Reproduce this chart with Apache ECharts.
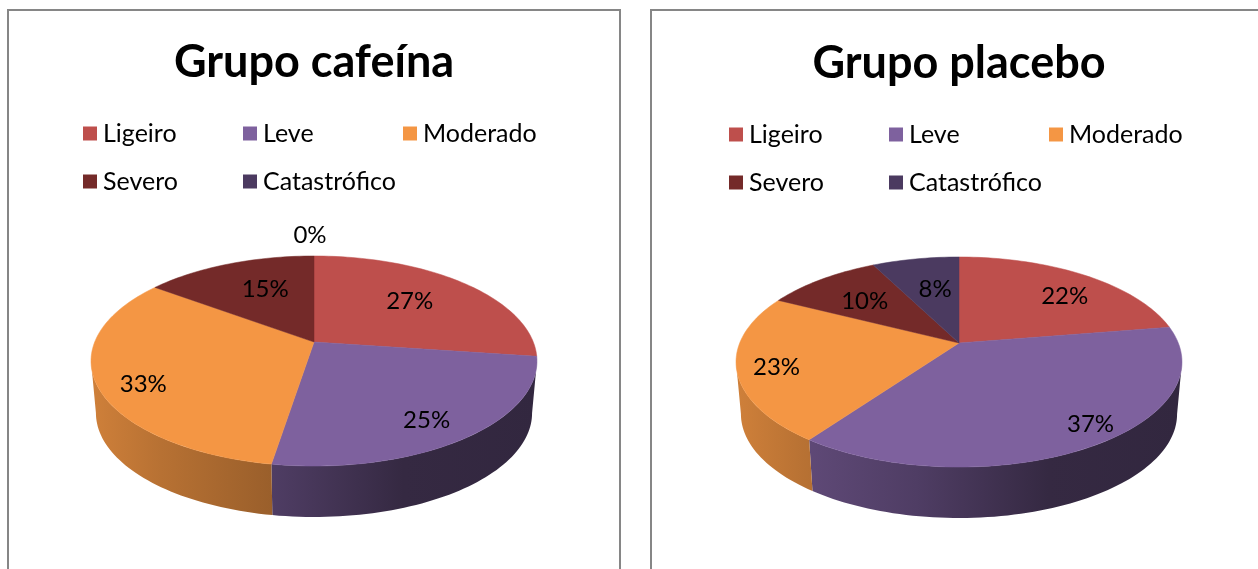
<!DOCTYPE html>
<html>
<head>
<meta charset="utf-8">
<style>
  html, body { margin: 0; padding: 0; background: #fff; overflow: hidden; }
  #chart { width: 1258px; height: 569px; }
</style>
<script src="https://cdn.jsdelivr.net/npm/echarts@6/dist/echarts.min.js"></script>
</head>
<body>
<div id="chart"></div>
<script>
const categories = ['Ligeiro', 'Leve', 'Moderado', 'Severo', 'Catastrófico'];
const titles = ['Grupo cafeína', 'Grupo placebo'];
const cafeina = [27.2, 25.35, 32.6, 14.85, 0];
const placebo = [22.45, 37.45, 22.6, 10, 7.5];

const colors = ['#BE4F4C', '#7E619E', '#F49644', '#742A29', '#4B3A60'];
const FONT = 'Lato';

// one entry per pie
const pies = [
  {
    values: cafeina, title: titles[0], cx: 314, cy: 342, titleY: 62, legendX: 83, legendY: 125,
    labelRadius: [0.64, 0.81, 0.82, 0.62, 1.29], labelNudge: [-1.6, 2.6, -5.8, 3.4, -1]
  },
  {
    values: placebo, title: titles[1], cx: 959, cy: 343, titleY: 63, legendX: 729, legendY: 126,
    labelRadius: [0.73, 0.875, 0.83, 0.64, 0.6], labelNudge: [5.7, -5, -2.5, -1.5, 1.9]
  }
];

// tilt of the disc: perspective foreshortening, far edge is squeezed
const PERSP = 0.181, RX = 219.3, RY = 101.6, DEPTH = 52;
const WALL_FROM = 100.4, WALL_TO = 259.6; // angles where the rim turns away

function rim(pie, deg) {
  const t = deg * Math.PI / 180;
  const w = 1 + PERSP * Math.cos(t);
  return [pie.cx + RX * Math.sin(t) / w, pie.cy - RY * Math.cos(t) / w];
}

function lowerRim(pie, deg) {
  const p = rim(pie, deg);
  const ey = pie.cy + 19;
  return [pie.cx + (p[0] - pie.cx) * 0.978, ey + DEPTH + (p[1] - ey) * 0.99];
}

function arc(fn, pie, from, to) {
  const pts = [];
  const n = Math.max(2, Math.ceil((to - from) / 1.5));
  for (let i = 0; i <= n; i++) pts.push(fn(pie, from + (to - from) * i / n));
  return pts;
}

function shade(hex, f) {
  const n = parseInt(hex.slice(1), 16);
  const c = [n >> 16, (n >> 8) & 255, n & 255].map(v => Math.round(v * f));
  return 'rgb(' + c.join(',') + ')';
}

function wallFill(pie, color) {
  const x0 = pie.cx - 223, x1 = pie.cx + 223;
  const stops = [[0, 0.85], [0.157, 0.75], [0.405, 0.63], [0.7, 0.42], [1, 0.4]];
  return new echarts.graphic.LinearGradient(x0, 0, x1, 0,
    stops.map(s => ({ offset: s[0], color: shade(color, s[1]) })), true);
}

function sliceRenderer(pie, idx) {
  return function (params, api) {
    const value = api.value(0);
    const from = api.value(1) * 3.6;
    const to = from + value * 3.6;
    const children = [];

    const a = Math.max(from, WALL_FROM), b = Math.min(to, WALL_TO);
    if (b > a) {
      const upper = arc(rim, pie, a, b);
      const lower = arc(lowerRim, pie, a, b).reverse();
      children.push({
        type: 'polygon',
        shape: { points: upper.concat(lower) },
        style: { fill: wallFill(pie, colors[idx]) }
      });
    }
    if (value > 0) {
      children.push({
        type: 'polygon',
        shape: { points: [[pie.cx, pie.cy]].concat(arc(rim, pie, from, to)) },
        style: { fill: colors[idx], stroke: colors[idx], lineWidth: 0.5 }
      });
    }

    // label sits on the disc at a fraction of the radius
    const mid = (from + to) / 2 + pie.labelNudge[idx];
    const r = pie.labelRadius[idx];
    const t = mid * Math.PI / 180;
    const u = r * Math.sin(t), v = r * Math.cos(t), w = 1 + PERSP * v;
    children.push({
      type: 'text',
      z2: 10,
      style: {
        x: pie.cx + RX * u / w,
        y: pie.cy - RY * v / w,
        text: Math.round(value) + '%',
        fill: '#000',
        font: '24px ' + FONT,
        align: 'center',
        verticalAlign: 'middle'
      }
    });
    return { type: 'group', children: children };
  };
}

const series = [], legends = [], graphic = [];

pies.forEach(function (pie, p) {
  let start = 0;
  categories.forEach(function (name, i) {
    series.push({
      type: 'custom',
      name: name,
      coordinateSystem: 'none',
      silent: true,
      animation: false,
      itemStyle: { color: colors[i] },
      renderItem: sliceRenderer(pie, i),
      data: [[pie.values[i], start]]
    });
    start += pie.values[i];

    legends.push({
      left: pie.legendX + 160 * (i % 3),
      top: pie.legendY + 48 * Math.floor(i / 3) - 4,
      padding: 0,
      selectedMode: false,
      icon: 'rect',
      itemWidth: 14,
      itemHeight: 14,
      textStyle: { fontFamily: FONT, fontSize: 25, color: '#000', padding: [0, 0, 0, 1] },
      data: [name]
    });
  });
});

const titleOpts = pies.map(pie => ({
  text: pie.title,
  left: pie.cx,
  top: pie.titleY,
  textAlign: 'center',
  textVerticalAlign: 'middle',
  padding: 0,
  textStyle: { fontFamily: FONT, fontSize: 45, fontWeight: 'bold', color: '#000' }
}));

graphic.push({
  type: 'rect', silent: true, z: -1,
  shape: { x: 8, y: 10, width: 612, height: 640 },
  style: { fill: '#fff', stroke: '#868686', lineWidth: 2 }
});
graphic.push({
  type: 'rect', silent: true, z: -1,
  shape: { x: 651, y: 10, width: 700, height: 640 },
  style: { fill: '#fff', stroke: '#868686', lineWidth: 2 }
});

const chart = echarts.init(document.getElementById('chart'), null, { renderer: 'canvas' });
chart.setOption({
  backgroundColor: '#fff',
  animation: false,
  title: titleOpts,
  legend: legends,
  graphic: graphic,
  series: series
});
</script>
</body>
</html>
